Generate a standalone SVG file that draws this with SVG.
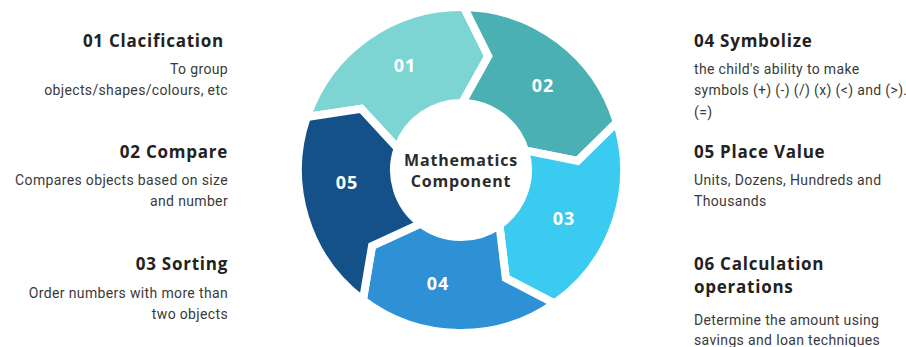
<svg xmlns="http://www.w3.org/2000/svg" width="906" height="347" viewBox="0 0 906 347">
  <style>
    .seg { stroke: #ffffff; stroke-width: 8; stroke-linejoin: miter; }
    .num { font-family: "Open Sans", "Liberation Sans", sans-serif; font-weight: 700; font-size: 18px; letter-spacing: 1px; fill: #ffffff; text-anchor: middle; }
    .hub { font-family: "Open Sans", "Liberation Sans", sans-serif; font-weight: 700; font-size: 16px; letter-spacing: 0.8px; fill: #2b2b2b; text-anchor: middle; }
    .title { font-family: "Open Sans", "Liberation Sans", sans-serif; font-weight: 700; font-size: 17px; letter-spacing: 0.75px; fill: #222222; }
    .body { font-family: "Roboto", "Liberation Sans", sans-serif; font-size: 14px; letter-spacing: 0.35px; fill: #3a3a3a; }
    .left { text-anchor: end; }
    .right { text-anchor: start; }
  </style>
  <rect width="906" height="347" fill="#ffffff"/>

  <!-- cycle ring: five chevron segments around centre (461,170) -->
  <g id="ring">
    <g id="seg-01">
      <path class="seg" fill="#7dd5d3" d="M306.88,116.93 A163,163 0 0 1 463.84,7.02 L488.31,56.23 L462.17,103.01 A67,67 0 0 0 397.65,148.19 L361.24,108.87 Z"/>
      <text class="num" x="405" y="72">01</text>
    </g>
    <g id="seg-02">
      <path class="seg" fill="#4ab0b4" d="M463.84,7.02 A163,163 0 0 1 616.88,122.34 L577.64,160.82 L525.07,150.41 A67,67 0 0 0 462.17,103.01 L488.31,56.23 Z"/>
      <text class="num" x="543" y="92">02</text>
    </g>
    <g id="seg-03">
      <path class="seg" fill="#3bcaf0" d="M616.88,122.34 A163,163 0 0 1 554.49,303.52 L505.77,278.09 L499.43,224.88 A67,67 0 0 0 525.07,150.41 L577.64,160.82 Z"/>
      <text class="num" x="564" y="225">03</text>
    </g>
    <g id="seg-04">
      <path class="seg" fill="#2e91d5" d="M554.49,303.52 A163,163 0 0 1 362.90,300.18 L372.03,245.99 L420.68,223.51 A67,67 0 0 0 499.43,224.88 L505.77,278.09 Z"/>
      <text class="num" x="438" y="290">04</text>
    </g>
    <g id="seg-05">
      <path class="seg" fill="#155189" d="M362.90,300.18 A163,163 0 0 1 306.88,116.93 L361.24,108.87 L397.65,148.19 A67,67 0 0 0 420.68,223.51 L372.03,245.99 Z"/>
      <text class="num" x="347" y="189">05</text>
    </g>
    <g id="hub">
      <text class="hub" x="461" y="166">Mathematics</text>
      <text class="hub" x="461" y="187">Component</text>
    </g>
  </g>

  <!-- left column -->
  <g id="item-01">
    <text class="title left" x="224" y="47">01 Clacification</text>
    <text class="body left" x="228" y="74">To group</text>
    <text class="body left" x="228" y="95">objects/shapes/colours, etc</text>
  </g>
  <g id="item-02">
    <text class="title left" x="228" y="158">02 Compare</text>
    <text class="body left" x="228" y="185">Compares objects based on size</text>
    <text class="body left" x="228" y="206">and number</text>
  </g>
  <g id="item-03">
    <text class="title left" x="228" y="270">03 Sorting</text>
    <text class="body left" x="228" y="298">Order numbers with more than</text>
    <text class="body left" x="228" y="319">two objects</text>
  </g>

  <!-- right column -->
  <g id="item-04">
    <text class="title right" x="694" y="47">04 Symbolize</text>
    <text class="body right" x="694" y="74">the child's ability to make</text>
    <text class="body right" x="694" y="95">symbols (+) (-) (/) (x) (&lt;) and (&gt;).</text>
    <text class="body right" x="694" y="117">(=)</text>
  </g>
  <g id="item-05">
    <text class="title right" x="694" y="158">05 Place Value</text>
    <text class="body right" x="694" y="185">Units, Dozens, Hundreds and</text>
    <text class="body right" x="694" y="206">Thousands</text>
  </g>
  <g id="item-06">
    <text class="title right" x="694" y="270">06 Calculation</text>
    <text class="title right" x="694" y="293">operations</text>
    <text class="body right" x="694" y="325">Determine the amount using</text>
    <text class="body right" x="694" y="345">savings and loan techniques</text>
  </g>
</svg>
